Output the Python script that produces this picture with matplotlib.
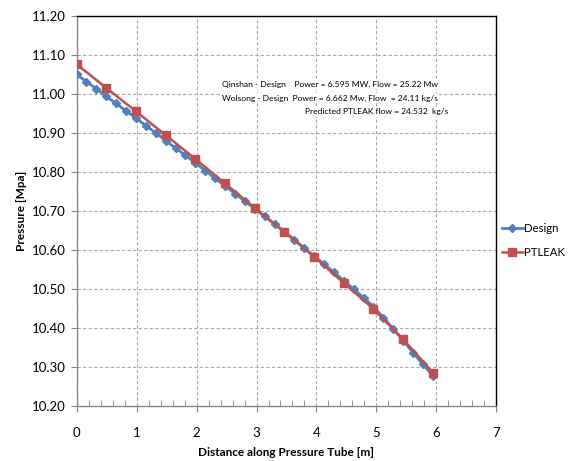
import matplotlib
matplotlib.use("Agg")
import matplotlib.pyplot as plt
import numpy as np
from matplotlib.ticker import MultipleLocator

design_x = [round(i * 0.165, 3) for i in range(37)]
design_y = [11.051, 11.032, 11.014, 10.994, 10.976, 10.957, 10.939, 10.919, 10.901,
            10.881, 10.862, 10.843, 10.824, 10.804, 10.784, 10.765, 10.745, 10.726,
            10.706, 10.687, 10.667, 10.647, 10.627, 10.605, 10.585, 10.564, 10.543,
            10.522, 10.500, 10.478, 10.455, 10.427, 10.398, 10.368, 10.337, 10.307, 10.278]
ptleak_x = [round(i * 0.495, 3) for i in range(13)]
ptleak_y = [11.077, 11.016, 10.956, 10.895, 10.834, 10.771, 10.708, 10.647,
            10.583, 10.516, 10.449, 10.371, 10.286]

annot_lines = ["Qinshan - Design    Power = 6.595 MW, Flow = 25.22 Mw",
               "Wolsong - Design  Power = 6.662 Mw, Flow  = 24.11 kg/s",
               "Predicted PTLEAK flow = 24.532  kg/s"]

plt.rcParams['font.family'] = ['Lato', 'DejaVu Sans']

fig = plt.figure(figsize=(5.71, 4.61), dpi=100)
ax = fig.add_axes([0.134, 0.119, 0.7355, 0.846])

blue = '#4F81BD'
red = '#C0504D'
ax.plot(design_x, design_y, color=blue, lw=2, marker='D', ms=4.5, label='Design', zorder=3)
ax.plot(ptleak_x, ptleak_y, color=red, lw=1.8, marker='s', ms=6, label='PTLEAK', zorder=4)

ax.set_xlim(0, 7)
ax.set_ylim(10.20, 11.20)
ax.xaxis.set_major_locator(MultipleLocator(1))
ax.xaxis.set_minor_locator(MultipleLocator(0.2))
ax.yaxis.set_major_locator(MultipleLocator(0.1))
ax.yaxis.set_major_formatter(matplotlib.ticker.FormatStrFormatter('%.2f'))
ax.grid(True, which='major', color='#aaaaaa', ls=(0, (3, 2)), lw=0.8)
ax.tick_params(axis='x', which='major', direction='out', length=4, color='#888888', labelsize=9.5, pad=11)
ax.tick_params(axis='x', which='minor', direction='in', length=4, color='#888888')
ax.tick_params(axis='y', which='major', direction='out', length=4, color='#888888', labelsize=9.5)
ax.spines['left'].set_color('#888888')
ax.spines['bottom'].set_color('#888888')
ax.spines['top'].set_color('black')
ax.spines['right'].set_color('black')
for s in ax.spines.values():
    s.set_linewidth(1)

ax.set_xlabel('Distance along Pressure Tube [m]', fontsize=8.5, fontweight='bold', labelpad=6)
ax.set_ylabel('Pressure [Mpa]', fontsize=8.5, fontweight='bold', labelpad=4)

bb = dict(facecolor='white', edgecolor='none', pad=1)
ax.text(0.860, 0.826, annot_lines[0], transform=ax.transAxes, ha='right', va='center', fontsize=6.1, bbox=bb, zorder=5)
ax.text(0.860, 0.790, annot_lines[1], transform=ax.transAxes, ha='right', va='center', fontsize=6.1, bbox=bb, zorder=5)
ax.text(0.884, 0.755, annot_lines[2], transform=ax.transAxes, ha='right', va='center', fontsize=6.1, bbox=bb, zorder=5)

ax.legend(loc='center left', bbox_to_anchor=(1.0, 0.425), frameon=False, fontsize=8.2,
          handlelength=1.8, handletextpad=0.15, labelspacing=1.2, borderaxespad=0.1)

fig.savefig('out.png', dpi=100)
